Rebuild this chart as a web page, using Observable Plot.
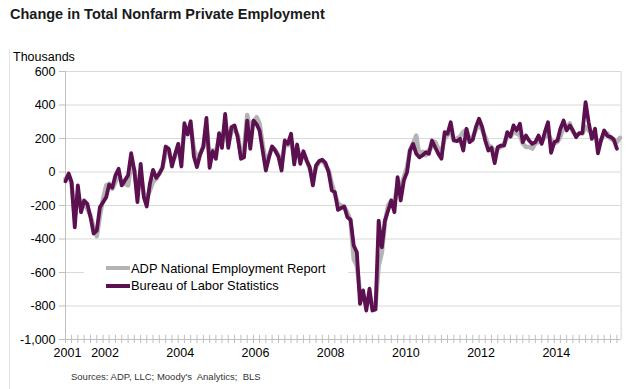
<!DOCTYPE html>
<html><head><meta charset="utf-8">
<script src="https://cdn.jsdelivr.net/npm/d3@7"></script>
<script src="https://cdn.jsdelivr.net/npm/@observablehq/plot@0.6"></script>
<style>
body{margin:0;background:#fff;}
#wrap{position:relative;width:630px;height:389px;overflow:hidden;font-family:"Liberation Sans",Arial,sans-serif;}
#wrap svg{position:absolute;left:0;top:0;}
.t{position:absolute;line-height:1;white-space:pre;color:#000;}
</style></head><body>
<div id="wrap"></div>
<script>
// ---- data (thousands, monthly change, starting Jan 2001) ----
const startYear = 2001;
const blsValues = [
  -55, -9, -60, -330, -80, -240, -170, -190, -270, -367, -350, -210,
  -180, -150, -75, -93, -20, 19, -80, -50, -20, 112, 9, -180,
  49, -150, -206, -69, 13, -35, -10, 25, 152, 139, 33, 104,
  168, 33, 291, 224, 303, 92, 29, 104, 152, 323, 25, 124,
  79, 232, 144, 347, 144, 268, 278, 208, 79, 88, 307, 139,
  307, 284, 248, 124, 9, 88, 152, 128, 90, 9, 188, 168,
  228, 45, 164, 49, 124, 69, 29, -80, 40, 65, 73, 55,
  -1, -110, -120, -226, -215, -206, -270, -285, -439, -479, -787, -707,
  -827, -697, -827, -820, -290, -449, -290, -230, -170, -240, -31, -170,
  -50, -1, 128, 168, 109, 88, 99, 118, 109, 188, 148, 109,
  79, 238, 228, 297, 188, 184, 198, 128, 258, 178, 192, 268,
  318, 268, 188, 128, 144, 53, 148, 158, 158, 238, 212, 278,
  248, 288, 178, 218, 188, 168, 178, 218, 168, 238, 297, 115,
  178, 188, 258, 307, 248, 278, 248, 208, 232, 232, 417, 297,
  198, 258, 112, 192, 248, 215, 210, 195, 139
];
const adpValues = [
  -40, -20, -70, -270, -130, -210, -190, -220, -260, -330, -383, -260,
  -160, -80, -70, -100, -60, -20, -60, -70, -80, 50, 10, -120,
  -20, -130, -160, -110, -60, -40, -10, 30, 110, 130, 60, 90,
  150, 90, 240, 230, 270, 140, 80, 110, 150, 270, 90, 130,
  120, 200, 170, 290, 170, 240, 260, 220, 110, 120, 340, 250,
  300, 327, 290, 160, 60, 100, 150, 130, 100, 50, 160, 160,
  190, 90, 140, 80, 110, 70, 20, -30, 30, 60, 70, 40,
  10, -70, -130, -190, -200, -210, -240, -290, -520, -560, -720, -740,
  -800, -740, -800, -790, -560, -480, -300, -200, -170, -180, -80, -90,
  -30, 30, 130, 170, 218, 90, 120, 100, 130, 150, 180, 140,
  120, 200, 220, 240, 190, 200, 210, 240, 250, 190, 210, 250,
  290, 250, 210, 160, 150, 120, 140, 150, 170, 210, 210, 240,
  230, 220, 170, 150, 150, 140, 170, 180, 180, 210, 230, 190,
  170, 180, 210, 270, 260, 290, 240, 220, 230, 230, 270, 250,
  230, 220, 170, 190, 230, 230, 200, 190, 180, 204
];
const seriesNames = ["ADP National Employment Report", "Bureau of Labor Statistics"];
const seriesColors = ["#b4b4b4", "#5c1050"];
const yearLabels = [2001, 2002, 2004, 2006, 2008, 2010, 2012, 2014];
const yTickValues = [-1000, -800, -600, -400, -200, 0, 200, 400, 600];
const titleText = "Change in Total Nonfarm Private Employment";
const unitText = "Thousands";
const sourceText = "Sources: ADP, LLC; Moody's  Analytics;  BLS";

// ---- build ----
const toDate = i => new Date(Date.UTC(startYear, i, 1));
const blsData = blsValues.map((v, i) => ({date: toDate(i), value: v}));
const adpData = adpValues.map((v, i) => ({date: toDate(i), value: v}));
const xStart = new Date(Date.UTC(2001, 0, 1));
const xEnd = new Date(Date.UTC(2015, 9, 12));
const tickDates = d3.utcMonth.every(2).range(xStart, xEnd);
const yearDates = yearLabels.map(y => new Date(Date.UTC(y, 0, 1)));
const fmt = d => (d < 0 ? "-" : "") + d3.format(",")(Math.abs(d));
const axisGray = "#bfbfbf";

const chart = Plot.plot({
  width: 630, height: 389,
  marginTop: 71, marginBottom: 50, marginLeft: 65, marginRight: 9.4,
  style: {fontFamily: "'Liberation Sans', Arial, sans-serif", background: "transparent", color: "#000"},
  x: {type: "utc", domain: [xStart, xEnd]},
  y: {domain: [-1000, 600]},
  marks: [
    Plot.gridY(yTickValues, {stroke: "#d9d9d9", strokeOpacity: 1}),
    Plot.ruleX([xStart], {stroke: axisGray}),
    Plot.ruleX([xEnd], {stroke: "#d4d4d4"}),
    Plot.ruleY([-1000], {stroke: axisGray}),
    Plot.ruleX(tickDates, {y1: -1000, y2: -975, stroke: axisGray}),
    Plot.axisX(tickDates, {tickSize: 4, tickFormat: () => "", color: axisGray, label: null}),
    Plot.axisX(yearDates, {tickSize: 0, tickPadding: 9, tickFormat: d => String(d.getUTCFullYear()), fontSize: 12.5, label: null, dx: 2, color: "#000"}),
    Plot.axisY(yTickValues, {tickSize: 6, tickFormat: () => "", color: axisGray, label: null}),
    Plot.axisY(yTickValues, {tickSize: 0, tickPadding: 10, tickFormat: fmt, fontSize: 12.5, label: null, color: "#000"}),
    Plot.line(adpData, {x: "date", y: "value", stroke: seriesColors[0], strokeWidth: 4.5, strokeLinejoin: "round"}),
    Plot.line(blsData, {x: "date", y: "value", stroke: seriesColors[1], strokeWidth: 3.8, strokeLinejoin: "round"})
  ]
});

const wrap = document.getElementById("wrap");
wrap.appendChild(chart);

function addText(txt, left, top, size, extra) {
  const d = document.createElement("div");
  d.className = "t";
  d.textContent = txt;
  d.style.left = left + "px";
  d.style.top = top + "px";
  d.style.fontSize = size + "px";
  if (extra) Object.assign(d.style, extra);
  wrap.appendChild(d);
  return d;
}
function addBox(left, top, w, h, bg) {
  const d = document.createElement("div");
  Object.assign(d.style, {position: "absolute", left: left + "px", top: top + "px", width: w + "px", height: h + "px", background: bg});
  wrap.appendChild(d);
  return d;
}
// faint outer border line
addBox(9, 49, 1, 340, "#e3e3e3");
// title, unit, source
addText(titleText, 10, 7.2, 14.5, {fontWeight: "bold", color: "#1a1a1a"});
addText(unitText, 13, 51, 12.5);
addText(sourceText, 71, 372, 9.5, {color: "#333"});
// legend
addBox(84, 255, 264, 42, "#fff");
addBox(106, 266, 24, 4, seriesColors[0]);
addBox(106, 284.2, 24, 3.8, seriesColors[1]);
addText(seriesNames[0], 131, 262.7, 12.9);
addText(seriesNames[1], 131, 280, 12.9);
</script>
</body></html>
